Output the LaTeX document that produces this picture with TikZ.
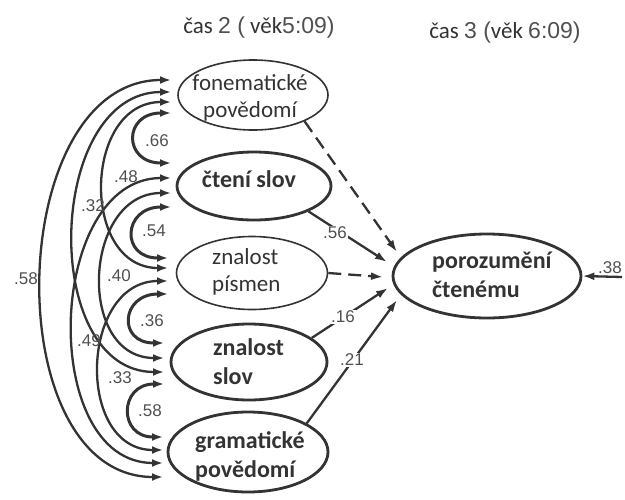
\documentclass[tikz,border=0pt]{standalone}
\usepackage{fontspec}
\setmainfont{Carlito}
\newfontfamily\arialf{Liberation Sans}
\usetikzlibrary{arrows.meta,shapes.geometric}
\definecolor{ink}{HTML}{333333}
\definecolor{numc}{HTML}{505050}
\begin{document}
\begin{tikzpicture}[x=1pt,y=-1pt,
  every node/.style={inner sep=0pt},
  thinell/.style={ellipse, draw=ink, line width=1.6pt},
  thickell/.style={ellipse, draw=ink, line width=2.8pt},
  regtxt/.style={font=\fontsize{23}{27}\selectfont, text=ink, align=center},
  boldtxt/.style={font=\fontsize{24}{29}\selectfont\bfseries, text=ink, align=left},
  coef/.style={font=\arialf\fontsize{17}{17}\selectfont, text=numc},
  head/.style={font=\fontsize{23}{23}\selectfont, text=ink},
  tipA/.style={-{Latex[length=12pt,width=8pt]}},
  cov/.style={{Latex[length=11pt,width=8pt]}-{Latex[length=11pt,width=8pt]}, draw=ink, line width=2.3pt},
  covin/.style={cov, line width=3pt},
  path/.style={tipA, draw=ink, line width=2.3pt},
  dpath/.style={path, dash pattern=on 13pt off 7pt}
]
\useasboundingbox (0,0) rectangle (625,499);

% headings
\node[head] (h2) at (259,28) {čas {\arialf\color{numc}2 (} věk{\arialf\color{numc}5:09)}};
\node[head] (h3) at (505,33) {čas {\arialf\color{numc}3 (}věk {\arialf\color{numc}6:09)}};

% latent variables
\node[thinell,  minimum width=150, minimum height=70] (fon)  at (253,95)  {};
\node[thickell, minimum width=154, minimum height=68] (cten) at (254,186) {};
\node[thinell,  minimum width=151, minimum height=73] (znp)  at (252,273) {};
\node[thickell, minimum width=156, minimum height=76] (zns)  at (249,362) {};
\node[thickell, minimum width=160, minimum height=80] (gram) at (248,452) {};
\node[thickell, minimum width=188, minimum height=84] (por)  at (487,276) {};

\node[regtxt] (fonT) at (250,98) {fonematické\\povědomí};
\node[boldtxt] (ctenT) at (249,179) {čtení slov};
\node[regtxt, align=left, anchor=west] (znpT) at (212,272) {znalost\\písmen};
\node[boldtxt, anchor=west] (znsT) at (213,362) {znalost\\slov};
\node[boldtxt, anchor=west] (gramT) at (195,456) {gramatické\\povědomí};
\node[boldtxt, anchor=west] (porT) at (432,275) {porozumění\\čtenému};

% tip points on the left
\coordinate (f1) at (171,80);  \coordinate (f2) at (171,92);
\coordinate (f3) at (171,102); \coordinate (f4) at (171,113);
\coordinate (c1) at (171,163); \coordinate (c2) at (171,178);
\coordinate (c3) at (171,193); \coordinate (c4) at (171,207);
\coordinate (z1) at (168,258); \coordinate (z2) at (168,268);
\coordinate (z3) at (168,281); \coordinate (z4) at (168,294);
\coordinate (s1) at (164,343); \coordinate (s2) at (164,358);
\coordinate (s3) at (164,372); \coordinate (s4) at (164,384);
\coordinate (g1) at (163,437); \coordinate (g2) at (163,450);
\coordinate (g3) at (163,463); \coordinate (g4) at (163,477);

% correlations
\draw[cov] (f1) .. controls +(-167,0) and +(-167,0) .. (g4);
\draw[cov] (f2) .. controls +(-125,0) and +(-125,0) .. (s3);
\draw[cov] (c2) .. controls +(-125,0) and +(-125,0) .. (g3);
\draw[cov] (f3) .. controls +(-88,0) and +(-88,0) .. (z2);
\draw[cov] (c3) .. controls +(-88,0) and +(-88,0) .. (s2);
\draw[cov] (z3) .. controls +(-88,0) and +(-88,0) .. (g2);
\draw[covin] (f4) .. controls +(-48,0) and +(-48,0) .. (c1);
\draw[covin] (c4) .. controls +(-48,0) and +(-48,0) .. (z1);
\draw[covin] (z4) .. controls +(-47,0) and +(-47,0) .. (s1);
\draw[covin] (s4) .. controls +(-45,0) and +(-45,0) .. (g1);

\node[coef] (l66) at (157,141) {.66};
\node[coef] (l48) at (126,177) {.48};
\node[coef] (l32) at (93,206) {.32};
\node[coef] (l54) at (154,231) {.54};
\node[coef] (l58a) at (26,279) {.58};
\node[coef] (l40) at (119,276) {.40};
\node[coef] (l49) at (89,341) {.49};
\node[coef] (l36) at (152,321) {.36};
\node[coef] (l33) at (120,378) {.33};
\node[coef] (l58b) at (150,411) {.58};

% paths to comprehension
\coordinate (p1) at (397,252);
\coordinate (p2) at (387,262);
\coordinate (p3) at (383,277);
\coordinate (p4) at (388,288);
\coordinate (p5) at (397,300);
\draw[dpath] (fon.-27) -- (p1);
\draw[path] (cten.-25) -- (p2);
\draw[dpath] (znp.east) -- (p3);
\draw[path] (zns.21) -- (p4);
\draw[path] (gram.26) -- (p5);
\node[coef, fill=white, inner sep=1pt] (l56) at (335,233) {.56};
\node[coef, fill=white, inner sep=1pt] (l16) at (343,317) {.16};
\node[coef, fill=white, inner sep=1pt] (l21) at (352,360) {.21};

% residual
\coordinate (e0) at (622,277);
\draw[path] (e0) -- (por.east);
\node[coef] (l38) at (610,268) {.38};
\end{tikzpicture}
\end{document}
